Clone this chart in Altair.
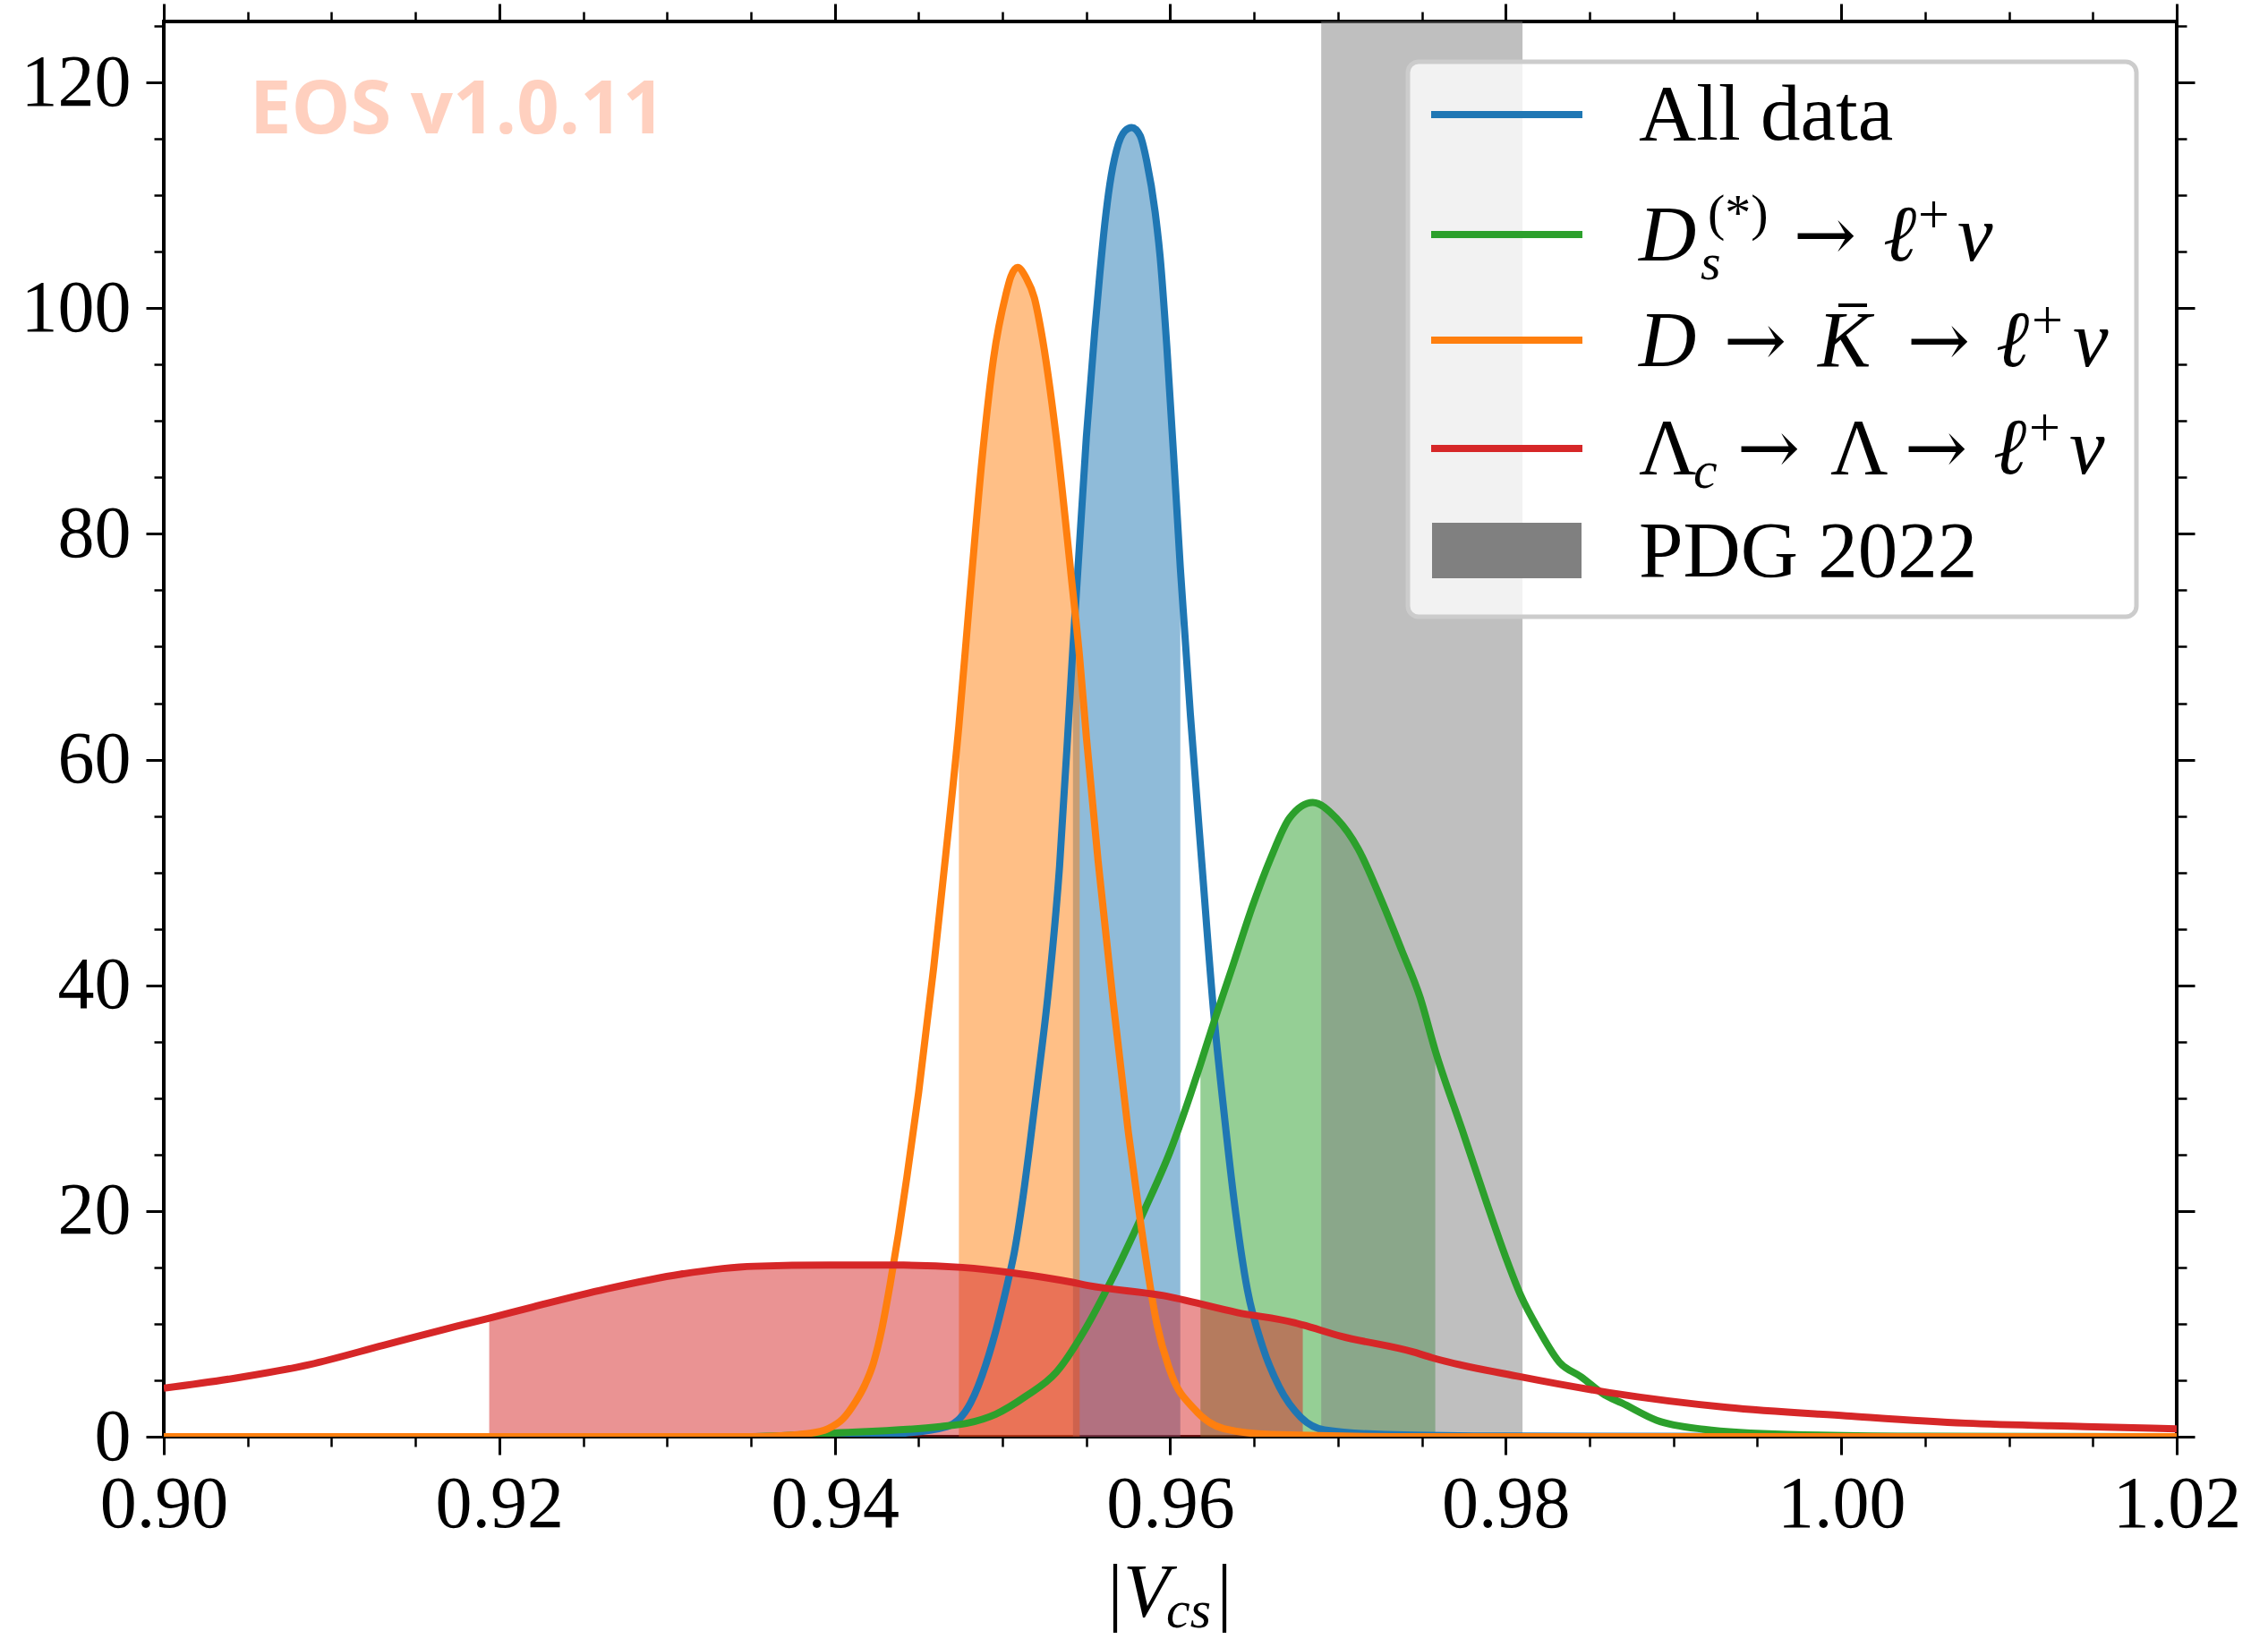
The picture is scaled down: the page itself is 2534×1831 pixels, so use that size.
import altair as alt
import pandas as pd

# ---------------- data ----------------
series_names = ["All data", "Ds -> l nu", "D -> Kbar -> l nu", "Lambda_c -> Lambda -> l nu"]
series_colors = ["#1f77b4", "#2ca02c", "#ff7f0e", "#d62728"]

blue_v = [0.900, 0.935, 0.940, 0.944, 0.9467, 0.9481, 0.9494, 0.9503, 0.9507, 0.9512, 0.9516,
          0.9521, 0.9527, 0.9534, 0.9540, 0.9542, 0.9550, 0.9555, 0.9558, 0.9561, 0.9564, 0.9568,
          0.9573, 0.9577, 0.9582, 0.9586, 0.9591, 0.9594, 0.9598, 0.9603, 0.9606, 0.9612,
          0.9619, 0.9626, 0.9632, 0.9638, 0.9646, 0.9655, 0.9665, 0.9678, 0.9692, 0.9728,
          0.980, 1.020]
blue_d = [0.0, 0.0, 0.05, 0.3, 0.9, 3.0, 8.3, 13.6, 16.3, 21.0, 25.5,
          31.5, 39.0, 50.5, 65.0, 70.0, 88.6, 98.0, 103.0, 107.5, 111.0, 114.0,
          115.7, 116.0, 115.3, 113.0, 108.5, 104.5, 96.5, 84.5, 77.0, 64.0,
          50.5, 37.4, 28.8, 21.0, 13.0, 8.0, 4.4, 1.7, 0.6, 0.2,
          0.05, 0.0]

green_v = [0.900, 0.935, 0.9396, 0.9463, 0.9479, 0.9496, 0.9514, 0.9532, 0.9550, 0.9564,
           0.9585, 0.9600, 0.9612, 0.9618, 0.9624, 0.9637, 0.9649, 0.9660, 0.9671, 0.9685,
           0.9699, 0.9712, 0.9724, 0.9738, 0.9749, 0.9758, 0.9774, 0.9788, 0.9800, 0.9809,
           0.9820, 0.9832, 0.9845, 0.9859, 0.9869, 0.9890, 0.9918, 0.9968, 1.005, 1.020]
green_d = [0.0, 0.0, 0.3, 0.9, 1.2, 2.0, 3.6, 5.7, 9.7, 13.6,
           20.2, 25.3, 30.3, 33.0, 35.8, 41.6, 47.0, 51.3, 54.8, 56.2,
           54.8, 52.1, 48.2, 43.1, 38.9, 34.2, 27.2, 21.0, 15.9, 12.5,
           9.4, 6.6, 5.3, 3.7, 3.0, 1.45, 0.66, 0.2, 0.03, 0.0]

orange_v = [0.900, 0.935, 0.9385, 0.9396, 0.9405, 0.9412, 0.9418, 0.9423, 0.9428, 0.9433,
            0.9438, 0.9443, 0.9450, 0.9459, 0.94662, 0.9474, 0.9480, 0.94884, 0.94946, 0.9502,
            0.9505, 0.9509, 0.9514, 0.9519, 0.9523, 0.9532, 0.9541, 0.9546, 0.9550, 0.9557,
            0.9566, 0.9575, 0.9582, 0.9592, 0.9601, 0.9614, 0.9632, 0.966, 0.975, 1.020]
orange_d = [0.0, 0.0, 0.3, 0.7, 1.6, 3.0, 4.6, 6.5, 9.5, 13.5,
            18.0, 23.0, 30.5, 41.6, 51.6, 63.0, 73.5, 87.5, 95.5, 101.2,
            102.8, 103.6, 102.7, 100.9, 98.0, 88.6, 76.2, 69.0, 62.0, 51.0,
            38.5, 27.0, 19.3, 10.0, 5.4, 2.5, 0.7, 0.2, 0.0, 0.0]

red_v = [0.900, 0.9043, 0.9087, 0.9131, 0.9175, 0.9194, 0.9220, 0.9264, 0.9308, 0.9352,
         0.9397, 0.9441, 0.9476, 0.9507, 0.9541, 0.9551, 0.9596, 0.9640, 0.9674, 0.9679,
         0.9702, 0.9745, 0.9756, 0.9809, 0.9862, 0.9932, 1.0003, 1.0074, 1.0145, 1.020]
red_d = [4.3, 5.2, 6.4, 8.1, 9.8, 10.5, 11.5, 13.1, 14.4, 15.1,
         15.2, 15.2, 15.0, 14.5, 13.7, 13.4, 12.5, 11.0, 10.1, 9.9,
         8.9, 7.5, 7.0, 5.3, 3.9, 2.6, 1.85, 1.2, 0.9, 0.7]

# central (68%) intervals shaded under each curve
fill_lo = [0.9542, 0.9618, 0.9474, 0.9194]
fill_hi = [0.9606, 0.9758, 0.9546, 0.9679]

# PDG 2022 band
pdg_lo = [0.969]
pdg_hi = [0.981]

x_domain = [0.90, 1.02]
y_domain = [0.0, 125.4]
x_major = [0.90, 0.92, 0.94, 0.96, 0.98, 1.00, 1.02]
x_minor = [round(0.900 + 0.005 * i, 3) for i in range(25)]
y_major = [0, 20, 40, 60, 80, 100, 120]
y_minor = [5 * i for i in range(26)]

all_v = [blue_v, green_v, orange_v, red_v]
all_d = [blue_d, green_d, orange_d, red_d]
rows = []
for name, vs, ds in zip(series_names, all_v, all_d):
    for v, d in zip(vs, ds):
        rows.append({"series": name, "v": v, "d": d})
df = pd.DataFrame(rows)

# ---------------- layout ----------------
LEFT, TOP = 183, 24
W, H = 2249, 1581
PAD = {"left": LEFT, "top": TOP, "right": 2534 - LEFT - W, "bottom": 1831 - TOP - H}
SERIF = "Liberation Serif"
ARROWF = "DejaVu Serif"

xs = alt.Scale(domain=x_domain, nice=False, zero=False)
ys = alt.Scale(domain=y_domain, nice=False, zero=False)
one = alt.Data(values=[{"a": 1}])

layers = []

# fills
for name, col, lo, hi in zip(series_names, series_colors, fill_lo, fill_hi):
    layers.append(
        alt.Chart(df)
        .transform_filter(f"datum.series == '{name}' && datum.v >= {lo} && datum.v <= {hi}")
        .mark_area(color=col, fillOpacity=0.5, strokeWidth=0, interpolate="monotone", clip=True)
        .encode(x=alt.X("v:Q", scale=xs, axis=None), y=alt.Y("d:Q", scale=ys, axis=None))
    )

# PDG band
band_df = pd.DataFrame({"lo": pdg_lo, "hi": pdg_hi, "b": [y_domain[0]], "t": [y_domain[1]]})
layers.append(
    alt.Chart(band_df)
    .mark_rect(color="#808080", opacity=0.5, clip=True)
    .encode(x=alt.X("lo:Q", scale=xs, axis=None), x2="hi:Q",
            y=alt.Y("b:Q", scale=ys, axis=None), y2="t:Q")
)

# lines
for name, col in zip(series_names, series_colors):
    layers.append(
        alt.Chart(df)
        .transform_filter(f"datum.series == '{name}'")
        .mark_line(color=col, strokeWidth=8, interpolate="monotone", clip=True, strokeJoin="round")
        .encode(x=alt.X("v:Q", scale=xs, axis=None), y=alt.Y("d:Q", scale=ys, axis=None))
    )

# axes (major / minor on all four sides)
axis_df = pd.DataFrame({"v": [0.96], "d": [60.0]})
common = dict(domain=False, grid=False, title=None, tickColor="black")


def axis_layer(xaxis, yaxis):
    return (
        alt.Chart(axis_df)
        .mark_point(opacity=0)
        .encode(x=alt.X("v:Q", scale=xs, axis=xaxis), y=alt.Y("d:Q", scale=ys, axis=yaxis))
    )


lab = dict(labelFont=SERIF, labelFontSize=82, labelColor="black", labelFlush=False,
           labelOverlap=False)
layers.append(axis_layer(
    alt.Axis(orient="bottom", values=x_major, format=".2f", tickSize=20, tickWidth=3,
             labelPadding=15, **lab, **common),
    alt.Axis(orient="left", values=y_major, format="d", tickSize=20, tickWidth=3,
             labelPadding=17, **lab, **common),
))
layers.append(axis_layer(
    alt.Axis(orient="bottom", values=x_minor, labels=False, tickSize=11, tickWidth=2.5, **common),
    alt.Axis(orient="left", values=y_minor, labels=False, tickSize=11, tickWidth=2.5, **common),
))
layers.append(axis_layer(
    alt.Axis(orient="top", values=x_major, labels=False, tickSize=20, tickWidth=3, **common),
    alt.Axis(orient="right", values=y_major, labels=False, tickSize=20, tickWidth=3, **common),
))
layers.append(axis_layer(
    alt.Axis(orient="top", values=x_minor, labels=False, tickSize=11, tickWidth=2.5, **common),
    alt.Axis(orient="right", values=y_minor, labels=False, tickSize=11, tickWidth=2.5, **common),
))


def txt(s, ax, ay, size=89, italic=False, align="left", font=SERIF, color="black", weight="normal"):
    return (
        alt.Chart(one)
        .mark_text(font=font, fontSize=size, fontStyle="italic" if italic else "normal",
                   fontWeight=weight, align=align, baseline="alphabetic", color=color)
        .encode(x=alt.value(ax - LEFT), y=alt.value(ay - TOP), text=alt.value(s))
    )


def arrow(cx, ay):
    return txt("\u2192", cx, ay, size=84, align="center", font=ARROWF)


# watermark
layers.append(txt("EOS v1.0.11", 279, 149, size=83, font="Open Sans", color="#FFD0BF", weight="bold"))

# legend frame
layers.append(
    alt.Chart(one)
    .mark_rect(fill="white", fillOpacity=0.8, stroke="#cccccc", strokeWidth=5, cornerRadius=12)
    .encode(x=alt.value(1573 - LEFT), x2=alt.value(2387 - LEFT),
            y=alt.value(69 - TOP), y2=alt.value(689 - TOP))
)
for col, ly in zip(series_colors, [128, 262, 380, 501]):
    layers.append(
        alt.Chart(one).mark_rule(color=col, strokeWidth=8)
        .encode(x=alt.value(1599 - LEFT), x2=alt.value(1768 - LEFT), y=alt.value(ly - TOP))
    )
layers.append(
    alt.Chart(one).mark_rect(color="#808080")
    .encode(x=alt.value(1600 - LEFT), x2=alt.value(1767 - LEFT),
            y=alt.value(584 - TOP), y2=alt.value(646 - TOP))
)

# legend labels
layers += [
    txt("All data", 1831, 156),
    # D_s^(*) -> l+ nu
    txt("D", 1831, 291, italic=True),
    txt("s", 1900, 312, size=58, italic=True),
    txt("(*)", 1908, 257, size=58),
    arrow(2039, 291),
    txt("\u2113", 2104, 291, italic=True),
    txt("+", 2143, 260, size=62),
    txt("\u03bd", 2187, 291, italic=True),
    # D -> Kbar -> l+ nu
    txt("D", 1831, 409, italic=True),
    arrow(1961, 409),
    txt("K", 2031, 409, italic=True),
    arrow(2166, 409),
    txt("\u2113", 2230, 409, italic=True),
    txt("+", 2270, 378, size=62),
    txt("\u03bd", 2316, 409, italic=True),
    # Lambda_c -> Lambda -> l+ nu
    txt("\u039b", 1831, 529),
    txt("c", 1892, 545, size=60, italic=True),
    arrow(1976, 529),
    txt("\u039b", 2045, 529),
    arrow(2163, 529),
    txt("\u2113", 2227, 529, italic=True),
    txt("+", 2267, 498, size=62),
    txt("\u03bd", 2312, 529, italic=True),
    txt("PDG 2022", 1831, 644),
]
# bar over K
layers.append(
    alt.Chart(one).mark_rule(color="black", strokeWidth=4)
    .encode(x=alt.value(2054 - LEFT), x2=alt.value(2086 - LEFT), y=alt.value(341 - TOP))
)

# x-axis title |V_cs|
layers += [
    txt("|", 1246, 1806, size=85, align="center"),
    txt("V", 1255, 1806, size=85, italic=True),
    txt("cs", 1303, 1818, size=60, italic=True),
    txt("|", 1368, 1806, size=85, align="center"),
]

chart = (
    alt.layer(*layers)
    .resolve_axis(x="independent", y="independent")
    .properties(width=W, height=H, padding=PAD, autosize=alt.AutoSizeParams(type="none"),
                background="white")
    .configure_view(stroke="black", strokeWidth=4)
)

chart.save("out.html", embed_options={"renderer": "svg", "actions": False})
